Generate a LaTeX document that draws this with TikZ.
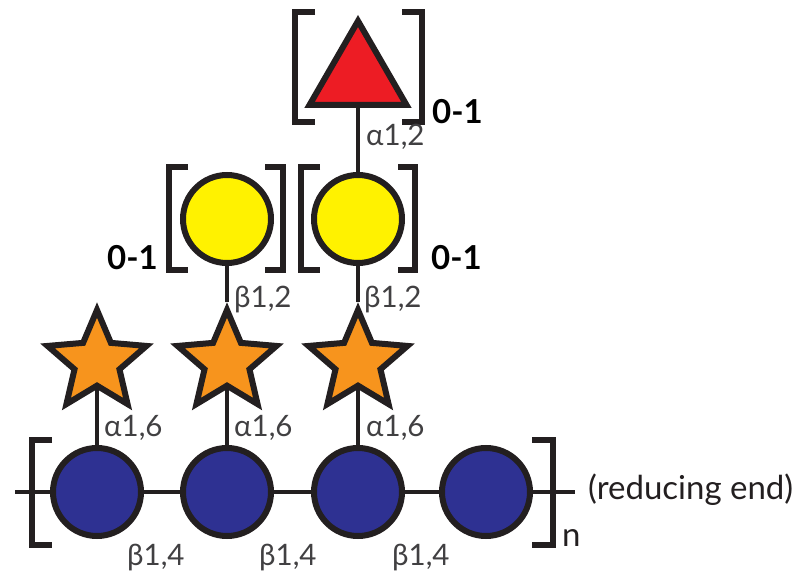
\documentclass[tikz,border=0pt]{standalone}
\usepackage{fontspec}
\setmainfont{Lato}
\usetikzlibrary{shapes.geometric,backgrounds}
\definecolor{glcblue}{HTML}{2E3192}
\definecolor{galyellow}{HTML}{FFF200}
\definecolor{xylorange}{HTML}{F7941D}
\definecolor{fucred}{HTML}{ED1C24}
\definecolor{outline}{HTML}{231F20}
\definecolor{labelgray}{HTML}{414042}
\tikzset{
  residue/.style={draw=outline, line width=6pt, inner sep=0pt},
  hexose/.style={residue, circle, minimum size=88pt},
  glc/.style={hexose, fill=glcblue},
  gal/.style={hexose, fill=galyellow},
  xyl/.style={residue, star, star points=5, star point ratio=2.2,
    minimum size=104pt, fill=xylorange},
  fuc/.style={residue, regular polygon, regular polygon sides=3,
    minimum size=112pt, fill=fucred},
  bond/.style={draw=outline, line width=4.5pt},
  bracket/.style={draw=outline, line width=5.5pt, line join=miter},
  linkage/.style={text=labelgray, font=\fontsize{29.5}{31}\selectfont,
    inner sep=0pt, anchor=west},
  count/.style={text=black, font=\fontsize{33}{35}\selectfont\bfseries,
    inner sep=0pt},
}
\begin{document}
\begin{tikzpicture}[x=1pt, y=-1pt]
  \useasboundingbox (0,0) rectangle (800,577);

  % backbone of glucose residues
  \node[glc] (b1) at (97,492) {};
  \node[glc] (b2) at (227,492) {};
  \node[glc] (b3) at (358,492) {};
  \node[glc] (b4) at (486,492) {};
  \coordinate (lend) at (15,492);
  \coordinate (rend) at (575,492);

  % xylose side chains
  \node[xyl] (s1) at (97,362) {};
  \node[xyl] (s2) at (227,362) {};
  \node[xyl] (s3) at (358,362) {};

  % galactose and fucose
  \node[gal] (y1) at (227,219) {};
  \node[gal] (y2) at (358,219) {};
  \node[fuc] (t) at (358,77) {};

  % glycosidic bonds behind the residues
  \begin{scope}[on background layer]
    \draw[bond] (lend) -- (b1) -- (b2) -- (b3) -- (b4) -- (rend);
    \draw[bond] (b1) -- (s1);
    \draw[bond] (b2) -- (s2) -- (y1);
    \draw[bond] (b3) -- (s3) -- (y2) -- (t);
  \end{scope}

  % repeat-unit brackets
  \draw[bracket] (52,440) -- (32,440) -- (32,545) -- (52,545);
  \draw[bracket] (532,440) -- (553,440) -- (553,545) -- (532,545);
  % optional galactose brackets
  \draw[bracket] (188,167) -- (169,167) -- (169,270) -- (188,270);
  \draw[bracket] (265,167) -- (283,167) -- (283,270) -- (265,270);
  \draw[bracket] (320,167) -- (301,167) -- (301,270) -- (320,270);
  \draw[bracket] (398,167) -- (415,167) -- (415,270) -- (398,270);
  % optional fucose brackets
  \draw[bracket] (315,12) -- (295,12) -- (295,122) -- (315,122);
  \draw[bracket] (402,12) -- (422,12) -- (422,122) -- (402,122);

  % linkage labels
  \node[linkage] (l12) at (366,137) {α1,2};
  \node[linkage] (lb1) at (234,300) {β1,2};
  \node[linkage] (lb2) at (364,300) {β1,2};
  \node[linkage] (la1) at (104,428) {α1,6};
  \node[linkage] (la2) at (234,428) {α1,6};
  \node[linkage] (la3) at (366,428) {α1,6};
  \node[linkage] (lc1) at (127,558) {β1,4};
  \node[linkage] (lc2) at (259,558) {β1,4};
  \node[linkage] (lc3) at (392,558) {β1,4};

  % occupancy and repeat labels
  \node[count, anchor=west] (c1) at (432,112) {0-1};
  \node[count, anchor=east] (c2) at (158,258) {0-1};
  \node[count, anchor=west] (c3) at (431,258) {0-1};
  \node[linkage, text=outline, font=\fontsize{33}{35}\selectfont] (rep) at (562,538) {n};
  \node[linkage, text=outline, font=\fontsize{33}{35}\selectfont] (red) at (588,490) {(reducing end)};
\end{tikzpicture}
\end{document}
